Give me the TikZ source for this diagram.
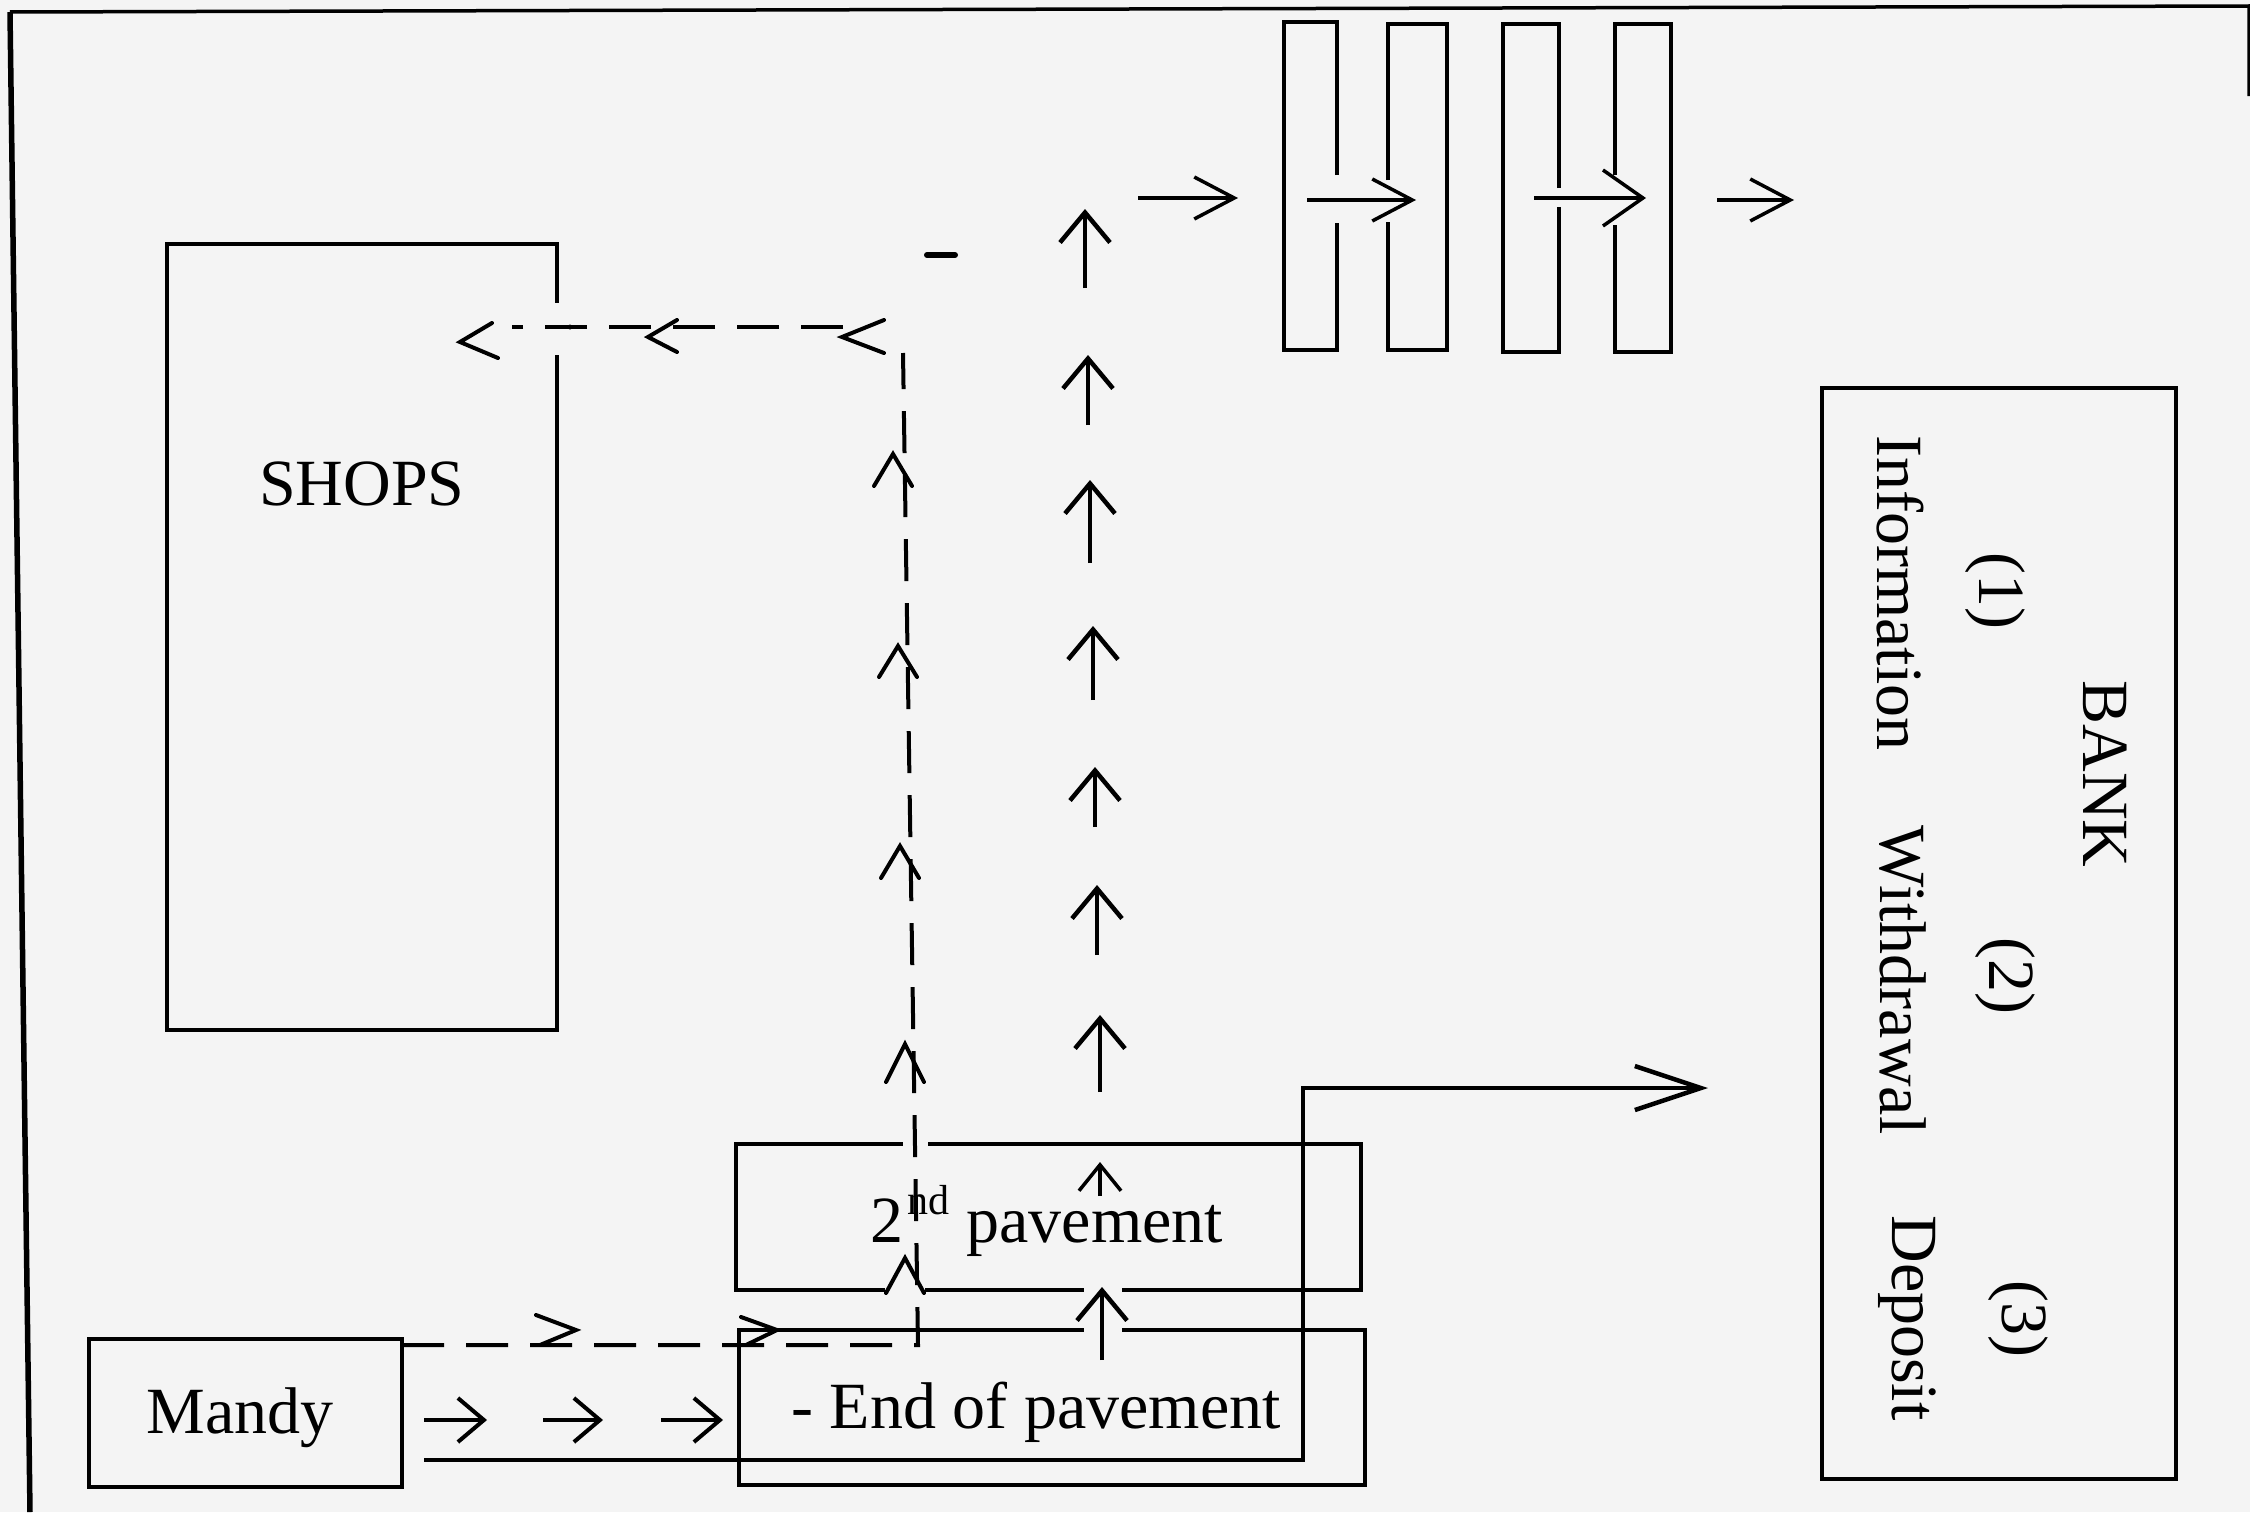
\documentclass[tikz,border=0pt]{standalone}
\usepackage{fontspec}
\setmainfont{Liberation Serif}
\usetikzlibrary{arrows.meta}
\definecolor{paper}{RGB}{244,244,244}
\begin{document}
\begin{tikzpicture}[x=1pt,y=-1pt,
  every node/.style={font=\fontsize{66}{79}\selectfont, inner sep=0pt, outer sep=0pt},
  box/.style={draw, line width=4.5pt, rectangle},
  erase/.style={draw=paper, line width=10pt},
  gate/.style={line width=4.5pt, line join=miter},
  frame/.style={line width=3.5pt},
  route/.style={line width=4pt, dash pattern=on 42pt off 22pt},
  chev/.style={line width=4pt, line cap=round, line join=miter},
  uparr/.style={line width=4.5pt, -{Straight Barb[length=30pt,width=50pt]}},
  smarr/.style={line width=4pt, -{Straight Barb[length=26pt,width=44pt]}},
  garr/.style={line width=3.5pt, -{Straight Barb[length=40pt,width=42pt]}},
  longarr/.style={line width=4.5pt, -{Straight Barb[length=66pt,width=44pt]}}
]
% page
\fill[paper] (0,0) rectangle (2250,1512);
\useasboundingbox (0,0) rectangle (2250,1512);
% outer frame
\draw[frame] (2249,96) -- (2249,6) -- (10,12);
\draw[line width=5.5pt] (10,12) -- (30,1512);

% boxes
\node[box, minimum width=390pt, minimum height=786pt] (shops) at (362,637) {};
\node[box, minimum width=313pt, minimum height=148pt] (mandy) at (245.5,1413) {};
\node[box, minimum width=625pt, minimum height=146pt] (pave2) at (1048.5,1217) {};
\node[box, minimum width=626pt, minimum height=155pt] (endpave) at (1052,1407.5) {};
\node[box, minimum width=354pt, minimum height=1091pt] (bank) at (1999,933.5) {};

% texts
\node[anchor=base] (shopst) at (362,505) {SHOPS};
\node[anchor=base] (mandyt) at (240,1433) {Mandy};
\node[anchor=base] (endt) at (1036,1428) {- End of pavement};
\node[anchor=base] (pave2t) at (1047,1242) {2\kern4pt\raisebox{0.42em}{\fontsize{42}{42}\selectfont nd} pavement};
\node[rotate=-90, anchor=base] (info) at (1877,593) {Information};
\node[rotate=-90, anchor=base] (withd) at (1880,980) {Withdrawal};
\node[rotate=-90, anchor=base] (depo) at (1892,1318) {Deposit};
\node[rotate=-90, anchor=base] (n1) at (1979,591) {(1)};
\node[rotate=-90, anchor=base] (n2) at (1989,976) {(2)};
\node[rotate=-90, anchor=base] (n3) at (2002,1319) {(3)};
\node[rotate=-90, anchor=base] (bankt) at (2083,774) {BANK};

% gates
\draw[gate] (1337,175) -- (1337,22) -- (1284,22) -- (1284,350) -- (1337,350) -- (1337,223);
\draw[gate] (1388,180) -- (1388,24) -- (1447,24) -- (1447,350) -- (1388,350) -- (1388,222);
\draw[gate] (1559,188) -- (1559,24) -- (1503,24) -- (1503,352) -- (1559,352) -- (1559,207);
\draw[gate] (1615,175) -- (1615,24) -- (1671,24) -- (1671,352) -- (1615,352) -- (1615,225);
\draw[garr] (1138,198) -- (1238,198);
\draw[garr] (1307,200) -- (1416,200);
\draw[line width=3.5pt, -{Straight Barb[length=40pt,width=56pt]}] (1534,198) -- (1646,198);
\draw[garr] (1717,200) -- (1794,200);

% gaps
\draw[erase] (557,303) -- (557,355);
\draw[erase] (903,1144) -- (928,1144);
\draw[erase] (885,1290) -- (925,1290);
\draw[erase] (1084,1290) -- (1122,1290);
\draw[erase] (1084,1330) -- (1122,1330);

% dashed route Mandy -> shops
\coordinate (dc1) at (918,1345);
\coordinate (dc2) at (903,327);
\draw[route] ([yshift=-6pt]mandy.north east) -- (dc1) -- ([yshift=-26pt]dc2);
\draw[route] ([xshift=-60pt]dc2) -- ([xshift=-45pt]shops.east |- dc2);
% chevrons on dashed route
\draw[chev] (536,1315) -- (576,1330) -- (540,1345);
\draw[chev] (741,1317) -- (777,1330) -- (746,1345);
\foreach \cx/\cy/\cb in {893/454/486, 898/646/677, 900/846/878, 905/1044/1082, 905/1258/1293}
  \draw[chev] (\cx-19,\cb) -- (\cx,\cy) -- (\cx+19,\cb);
\draw[chev] (492,323) -- (460,342) -- (498,358);
\draw[chev] (677,320) -- (648,337) -- (677,352);
\draw[chev] (884,320) -- (842,337) -- (884,353);
\fill (570,327) circle (2.5pt);
\draw[line width=6pt, line cap=round] (927,255) -- (955,255);

% solid route End of pavement -> bank
\coordinate (bk) at (1708,1088);
\draw[longarr] ([xshift=22pt,yshift=-47pt]mandy.east) -| (1303,1088) -- (bk);

% arrows Mandy -> end of pavement
\draw[smarr] (424,1420) -- (487,1420);
\draw[smarr] (543,1420) -- (603,1420);
\draw[smarr] (661,1420) -- (723,1420);

% upward arrows
\draw[uparr] (1102,1360) -- (1102,1287);
\draw[line width=3.5pt, -{Straight Barb[length=26pt,width=42pt]}] (1100,1196) -- (1100,1162);
\foreach \ax/\tl/\tp in {1085/288/209, 1088/425/355, 1090/563/480, 1093/700/626, 1095/827/767, 1097/955/885, 1100/1092/1015}
  \draw[uparr] (\ax,\tl) -- (\ax,\tp);
\end{tikzpicture}
\end{document}
